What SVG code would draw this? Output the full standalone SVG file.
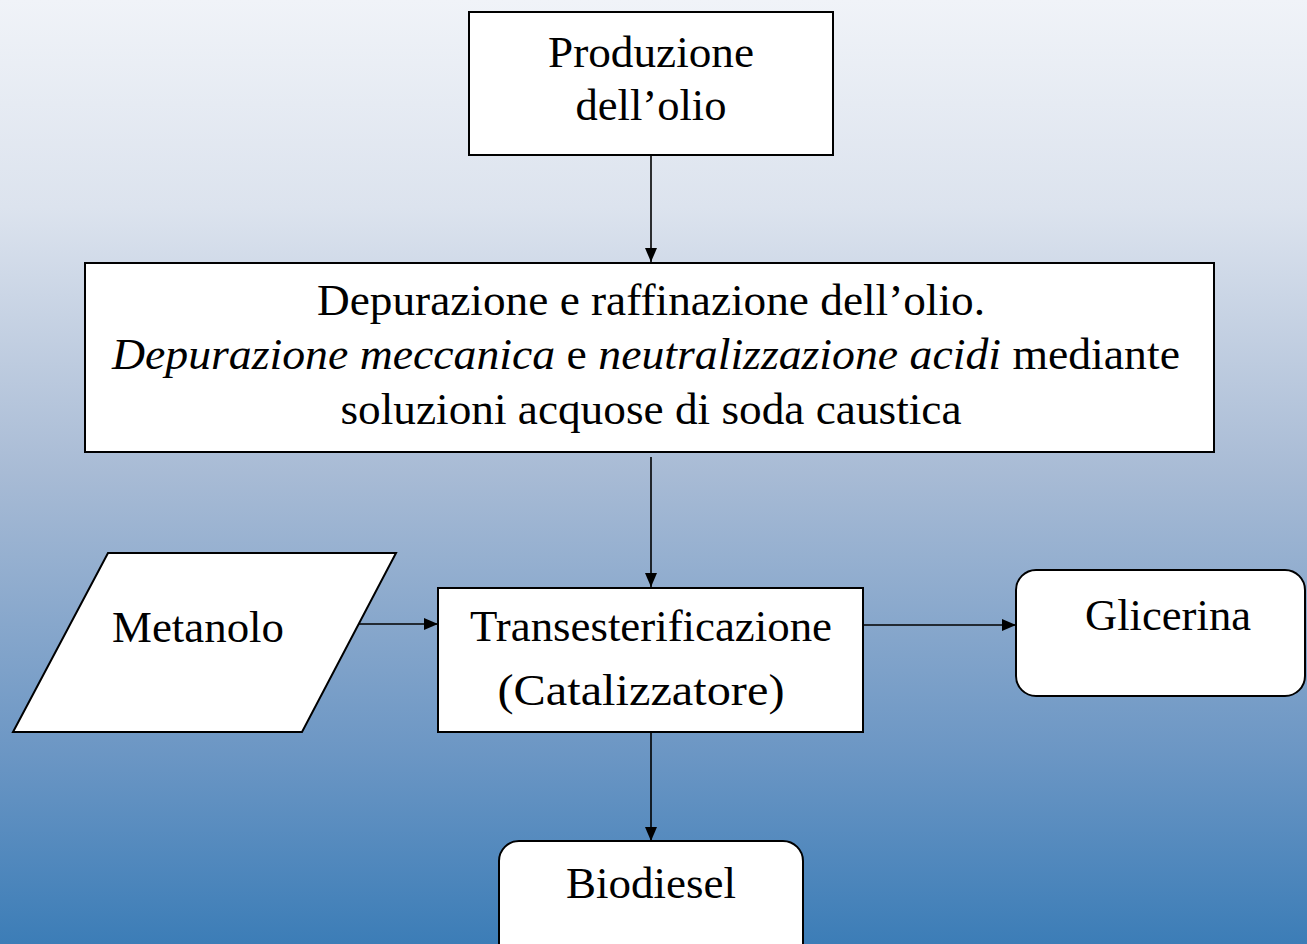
<svg xmlns="http://www.w3.org/2000/svg" width="1307" height="944" viewBox="0 0 1307 944">
<defs>
<linearGradient id="bg" x1="0" y1="0" x2="0" y2="1">
<stop offset="0" stop-color="#f0f3f8"/>
<stop offset="0.22" stop-color="#dce3ee"/>
<stop offset="0.5" stop-color="#a8bbd5"/>
<stop offset="0.8" stop-color="#6b96c4"/>
<stop offset="1" stop-color="#3c7db7"/>
</linearGradient>
<marker id="arr2" viewBox="0 0 14 12" refX="14" refY="6" markerWidth="14" markerHeight="12" markerUnits="userSpaceOnUse" orient="auto">
<path d="M0,0 L14,6 L0,12 Z" fill="#000"/>
</marker>
</defs>
<style>
.box{fill:#fff;stroke:#000;stroke-width:2}
.t{font-family:'Liberation Serif','Times New Roman',serif;font-size:45px;fill:#000;text-anchor:middle}
.i{font-style:italic}
.c{stroke:#000;stroke-width:1.6;fill:none}
</style>
<rect width="1307" height="944" fill="url(#bg)"/>
<g id="connectors">
<line class="c" x1="651" y1="155" x2="651" y2="262" marker-end="url(#arr2)"/>
<line class="c" x1="651" y1="457" x2="651" y2="587" marker-end="url(#arr2)"/>
<line class="c" x1="347" y1="624" x2="438" y2="624" marker-end="url(#arr2)"/>
<line class="c" x1="864" y1="625" x2="1016" y2="625" marker-end="url(#arr2)"/>
<line class="c" x1="651" y1="732" x2="651" y2="841" marker-end="url(#arr2)"/>
</g>
<g id="produzione">
<rect class="box" x="469" y="12" width="364" height="143"/>
<text class="t" x="651" y="67" textLength="206" lengthAdjust="spacingAndGlyphs">Produzione</text>
<text class="t" x="651" y="120" textLength="151" lengthAdjust="spacingAndGlyphs">dell’olio</text>
</g>
<g id="depurazione">
<rect class="box" x="85" y="263" width="1129" height="189"/>
<text class="t" x="651" y="315" textLength="668" lengthAdjust="spacingAndGlyphs">Depurazione e raffinazione dell’olio.</text>
<text class="t" x="646" y="369" textLength="1068" lengthAdjust="spacingAndGlyphs"><tspan class="i">Depurazione meccanica</tspan> e <tspan class="i">neutralizzazione acidi</tspan> mediante</text>
<text class="t" x="651" y="424" textLength="621" lengthAdjust="spacingAndGlyphs">soluzioni acquose di soda caustica</text>
</g>
<g id="metanolo">
<polygon class="box" points="108,553 396,553 302,732 13,732"/>
<text class="t" x="198" y="642" textLength="172" lengthAdjust="spacingAndGlyphs">Metanolo</text>
</g>
<g id="transesterificazione">
<rect class="box" x="438" y="588" width="425" height="144"/>
<text class="t" x="651" y="641" textLength="362" lengthAdjust="spacingAndGlyphs">Transesterificazione</text>
<text class="t" x="641" y="705" textLength="287" lengthAdjust="spacingAndGlyphs">(Catalizzatore)</text>
</g>
<g id="glicerina">
<rect class="box" x="1016" y="570" width="289" height="126" rx="20" ry="20"/>
<text class="t" x="1168" y="630" textLength="166" lengthAdjust="spacingAndGlyphs">Glicerina</text>
</g>
<g id="biodiesel">
<rect class="box" x="499" y="841" width="304" height="130" rx="20" ry="20"/>
<text class="t" x="651" y="898" textLength="170" lengthAdjust="spacingAndGlyphs">Biodiesel</text>
</g>
</svg>
